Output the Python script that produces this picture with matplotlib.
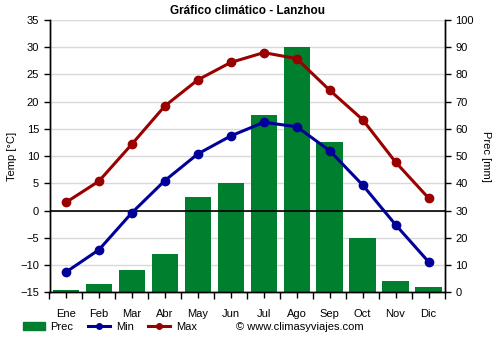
import matplotlib
matplotlib.use('Agg')
import matplotlib.pyplot as plt
from matplotlib.patches import Patch
from matplotlib.lines import Line2D
import numpy as np

plt.rcParams['font.family'] = ['Liberation Sans', 'DejaVu Sans']

# datos climáticos - Lanzhou
meses = ['Ene', 'Feb', 'Mar', 'Abr', 'May', 'Jun', 'Jul', 'Ago', 'Sep', 'Oct', 'Nov', 'Dic']
temp_min = [-11.3, -7.2, -0.4, 5.5, 10.4, 13.7, 16.2, 15.4, 11.0, 4.7, -2.6, -9.4]
temp_max = [1.5, 5.4, 12.2, 19.2, 24.0, 27.2, 29.0, 27.9, 22.1, 16.7, 8.9, 2.3]
prec = [1, 3, 8, 14, 35, 40, 65, 90, 55, 20, 4, 2]

verde = '#007f2f'
azul = '#000099'
rojo = '#990000'

fig = plt.figure(figsize=(5, 3.5), dpi=100)
ax = fig.add_axes([0.099, 0.165, 0.791, 0.778])
ax2 = ax.twinx()

x = np.arange(len(meses))

# barras de precipitación (eje derecho, detrás)
ax2.bar(x, prec, width=0.8, color=verde, zorder=2)
ax2.set_ylim(0, 100)
ax2.set_yticks(np.arange(0, 101, 10))
ax2.set_xticks(np.arange(-0.5, 12, 1), minor=True)
ax2.grid(True, which='minor', axis='x', color='#d9d9d9', lw=1, zorder=0)
ax2.grid(True, which='major', axis='y', color='#d9d9d9', lw=1, zorder=0)
ax2.set_axisbelow(True)
ax2.set_ylabel('Prec [mm]', rotation=270, labelpad=12, fontsize=8)

# líneas de temperatura (eje izquierdo, encima)
ax.set_zorder(ax2.get_zorder() + 1)
ax.patch.set_visible(False)
ax.axhline(0, color='black', lw=1.2, zorder=1)
ax.plot(x, temp_min, color=azul, lw=2.2, marker='o', ms=6, zorder=3)
ax.plot(x, temp_max, color=rojo, lw=2.2, marker='o', ms=6, zorder=3)
ax.set_ylim(-15, 35)
ax.set_yticks(np.arange(-15, 36, 5))
ax.set_xlim(-0.5, 11.5)
ax.set_xticks(x)
ax.set_xticklabels(meses)
ax.set_xticks(np.arange(-0.5, 12, 1), minor=True)
ax.tick_params(axis='x', which='major', length=0, pad=8)
ax.tick_params(axis='x', which='minor', length=5, width=1)
ax.set_ylabel('Temp [°C]', fontsize=8, labelpad=2)
ax.set_title('Gráfico climático - Lanzhou', fontsize=8.5, fontweight='bold', pad=4)

for a in (ax, ax2):
    a.tick_params(labelsize=8, length=4, width=1, colors='black')
    a.spines['top'].set_visible(False)
    for s in ('left', 'right', 'bottom'):
        a.spines[s].set_linewidth(1)
ax2.tick_params(axis='x', which='both', length=0, labelbottom=False)

# leyenda
handles = [
    Patch(color=verde, label='Prec'),
    Line2D([], [], color=azul, lw=2.2, marker='o', ms=4, label='Min'),
    Line2D([], [], color=rojo, lw=2.2, marker='o', ms=4, label='Max'),
]
fig.legend(handles=handles, loc='center left', bbox_to_anchor=(0.03, 0.066), ncol=3,
           frameon=False, fontsize=8, handlelength=2.0, handletextpad=0.5,
           columnspacing=1.3, borderpad=0.2)
fig.text(0.472, 0.066, '© www.climasyviajes.com', fontsize=8, va='center')

fig.savefig('out.png', dpi=100)
